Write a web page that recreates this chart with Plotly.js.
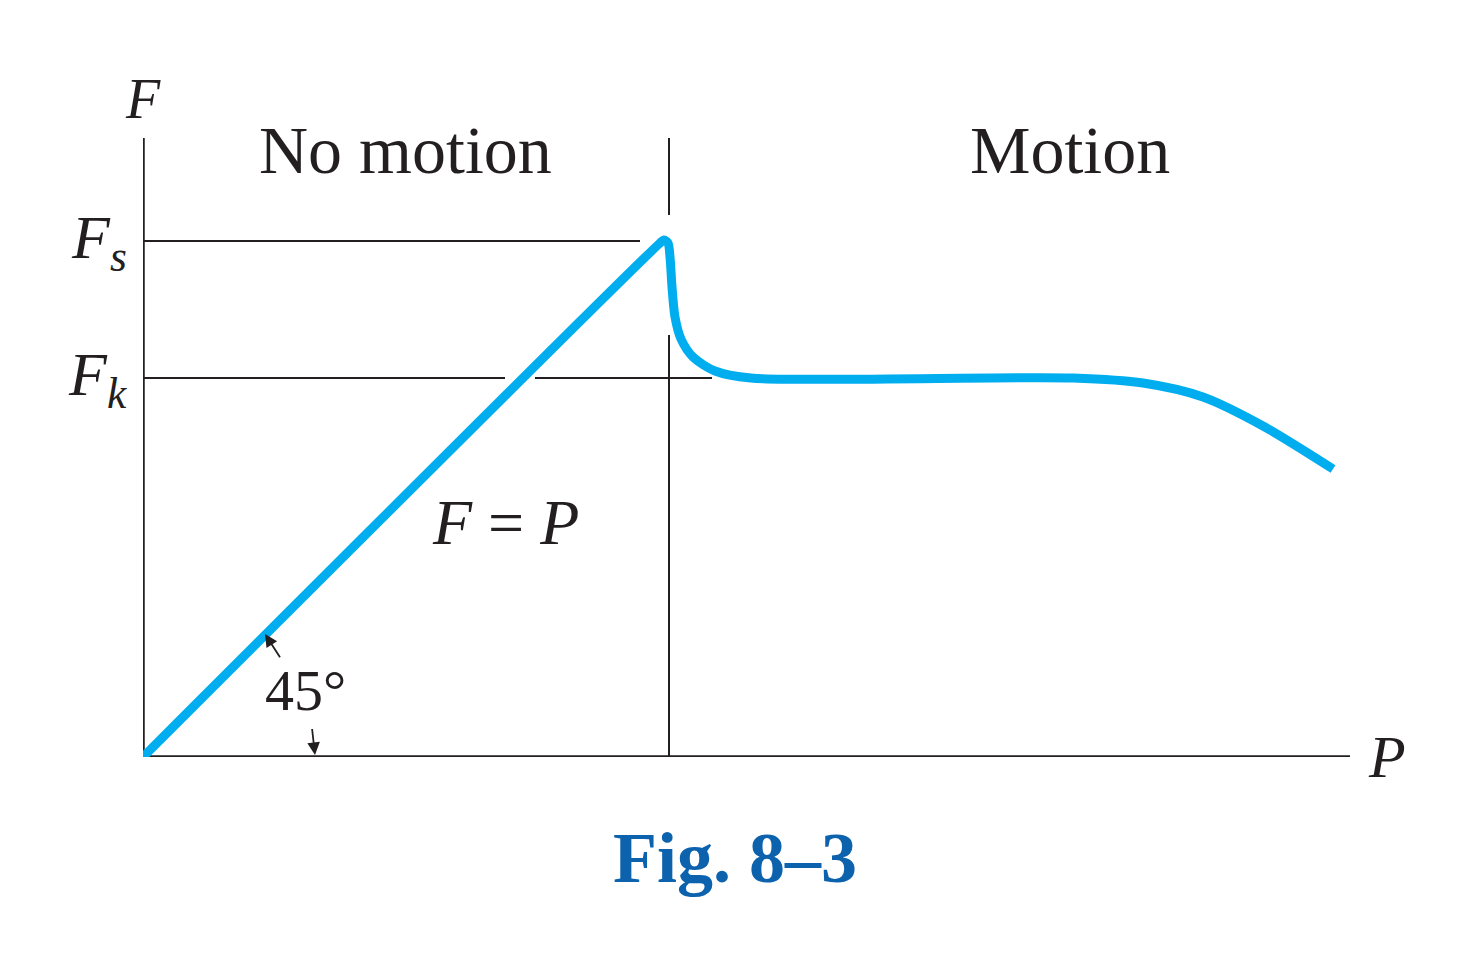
<!DOCTYPE html>
<html><head><meta charset="utf-8">
<script src="https://cdn.plot.ly/plotly-3.0.1.min.js"></script>
<style>body{margin:0;background:#fff}</style></head>
<body><div id="chart" style="width:1460px;height:962px"></div>
<script>
// friction curve, pixel-scaled units (x = P, y = F)
var curveP = [0, 516, 521, 525, 527, 529, 532, 538, 550, 572, 608, 930, 1000, 1060, 1120, 1190];
var curveF = [0, 513, 517, 514, 500, 470, 440, 418, 400, 386, 379, 379, 374, 360, 331, 288];
var Fs = 516, Fk = 379, Pcrit = 526;

var serif = "Liberation Serif, Times New Roman, serif";
var black = "#231f20";

var trace = {x: curveP, y: curveF, mode: "lines", type: "scatter",
  line: {color: "#00aeef", width: 9, shape: "spline", smoothing: 0.8}, hoverinfo: "none"};

function seg(x0, y0, x1, y1, w) {
  return {type: "line", x0: x0, y0: y0, x1: x1, y1: y1, line: {color: black, width: w || 2}, layer: "below"};
}

var layout = {
  margin: {l: 143, r: 110, t: 138, b: 205},
  showlegend: false, paper_bgcolor: "#fff", plot_bgcolor: "#fff",
  xaxis: {range: [0, 1207], showgrid: false, zeroline: false, showticklabels: false, ticks: ""},
  yaxis: {range: [0, 619], showgrid: false, zeroline: false, showticklabels: false, ticks: ""},
  shapes: [
    seg(0, 0, 1207, 0, 3.5), seg(0, 0, 0, 619, 3.5),
    seg(0, Fs, 497, Fs),
    seg(0, Fk, 362, Fk), seg(392, Fk, 569, Fk),
    seg(Pcrit, 0, Pcrit, 422), seg(Pcrit, 542, Pcrit, 619)
  ],
  annotations: [
    {x: 0, y: 619, text: "<i>F</i>", showarrow: false, yanchor: "bottom", yshift: 6, font: {family: serif, size: 56, color: black}},
    {x: 1207, y: 0, text: "<i>P</i>", showarrow: false, xanchor: "left", xshift: 16, font: {family: serif, size: 60, color: black}},
    {x: 0, y: Fs, text: "<i>F<sub>s</sub></i>", showarrow: false, xanchor: "right", xshift: -14, font: {family: serif, size: 62, color: black}},
    {x: 0, y: Fk, text: "<i>F<sub>k</sub></i>", showarrow: false, xanchor: "right", xshift: -14, font: {family: serif, size: 62, color: black}},
    {x: 262, y: 607, text: "No motion", showarrow: false, font: {family: serif, size: 68, color: black}},
    {x: 927, y: 607, text: "Motion", showarrow: false, font: {family: serif, size: 68, color: black}},
    {x: 362, y: 235, text: "<i>F</i> = <i>P</i>", showarrow: false, font: {family: serif, size: 64, color: black}},
    {x: 162, y: 67, text: "45°", showarrow: false, font: {family: serif, size: 58, color: black}},
    {x: 122, y: 123, ax: 140, ay: 95, axref: "x", ayref: "y", text: " ", showarrow: true, arrowhead: 2, arrowsize: 1.4, arrowwidth: 1.8, arrowcolor: black},
    {x: 172, y: 2, ax: 168, ay: 38, axref: "x", ayref: "y", text: " ", showarrow: true, arrowhead: 2, arrowsize: 1.4, arrowwidth: 1.8, arrowcolor: black},
    {x: 0, y: 0, xref: "paper", yref: "paper", text: "<b>Fig. 8–3</b>", showarrow: false, font: {family: serif, size: 72, color: "#0d62ad"}}
  ]
};
layout.annotations[10].x = (735 - 143) / 1207;
layout.annotations[10].y = (757 - 900) / 619;

Plotly.newPlot("chart", [trace], layout, {displayModeBar: false, staticPlot: true});
</script></body></html>
